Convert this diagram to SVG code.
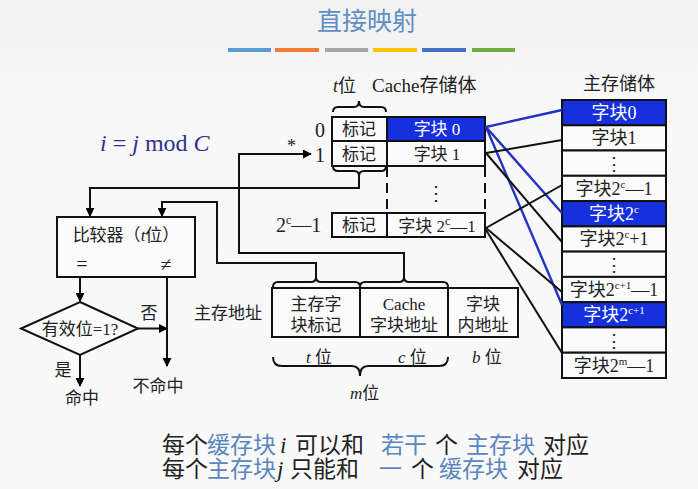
<svg xmlns="http://www.w3.org/2000/svg" width="698" height="489" viewBox="0 0 698 489">
<defs>
<marker id="arr" viewBox="0 0 10 10" refX="9" refY="5" markerWidth="9" markerHeight="9" markerUnits="userSpaceOnUse" orient="auto">
<path d="M0,0 L10,5 L0,10 z" fill="#000"/>
</marker>
<linearGradient id="bg" x1="0" y1="0" x2="0" y2="1">
<stop offset="0" stop-color="#f1f1f1"/>
<stop offset="0.2" stop-color="#f8f8f8"/>
<stop offset="1" stop-color="#f9f9f9"/>
</linearGradient>
</defs>
<style>
.t{font-family:"Liberation Serif","Noto Sans CJK SC",serif;fill:#222;}
.c{text-anchor:middle;}
.box{fill:#fbfbfb;stroke:#111;stroke-width:2;}
.hl{fill:#1530dc;stroke:#111;stroke-width:2;}
.ln{fill:none;stroke:#111;stroke-width:2;}
.bl{fill:none;stroke:#2232c2;stroke-width:2.4;}
.blk{fill:none;stroke:#111;stroke-width:2;}
.it{font-style:italic;}
.hb{fill:#5b86c0;}
.wt{fill:#fff;}
</style>
<rect x="0" y="0" width="698" height="489" fill="url(#bg)"/>

<g id="title">
<text class="t c" x="367" y="30" font-size="25" style="fill:#5f8fc5">直接映射</text>
<rect x="228" y="48" width="43" height="4" fill="#5b9bd5"/>
<rect x="275" y="48" width="44" height="4" fill="#ed7d31"/>
<rect x="325" y="48" width="43" height="4" fill="#a5a5a5"/>
<rect x="373" y="48" width="44" height="4" fill="#ffc000"/>
<rect x="422" y="48" width="44" height="4" fill="#4472c4"/>
<rect x="472" y="48" width="43" height="4" fill="#70ad47"/>
</g>

<g id="formula">
<text class="t" x="100" y="151" font-size="24" style="fill:#2e3192"><tspan class="it">i</tspan> = <tspan class="it">j</tspan> mod <tspan class="it">C</tspan></text>
</g>

<g id="cache">
<text class="t" x="333" y="92" font-size="18"><tspan class="it">t</tspan>位</text>
<text class="t" x="372" y="92" font-size="19">Cache存储体</text>
<path class="ln" d="M333,112 Q333,107 338,107 L354,107 Q359,107 359,101 Q359,107 364,107 L381,107 Q386,107 386,112"/>
<text class="t c" x="320" y="137" font-size="20">0</text>
<text class="t c" x="320" y="162" font-size="20">1</text>
<text class="t" x="276" y="232" font-size="20">2<tspan font-size="12" dy="-8">c</tspan><tspan dy="8">—1</tspan></text>
<rect class="box" x="332" y="117" width="55" height="24"/>
<rect class="hl" x="387" y="117" width="98" height="24"/>
<rect class="box" x="332" y="141" width="55" height="25"/>
<rect class="box" x="387" y="141" width="98" height="25"/>
<rect class="box" x="332" y="213" width="55" height="24"/>
<rect class="box" x="387" y="213" width="98" height="24"/>
<line x1="387" y1="167" x2="387" y2="213" stroke="#111" stroke-width="2" stroke-dasharray="10 6"/>
<line x1="485" y1="167" x2="485" y2="213" stroke="#111" stroke-width="2" stroke-dasharray="10 6"/>
<text class="t c" x="436" y="200" font-size="20">⋮</text>
<text class="t c" x="359" y="135" font-size="17">标记</text>
<text class="t c" x="359" y="160" font-size="17">标记</text>
<text class="t c" x="359" y="231" font-size="17">标记</text>
<text class="t c wt" x="437" y="135" font-size="17">字块 0</text>
<text class="t c" x="437" y="160" font-size="17">字块 1</text>
<text class="t c" x="437" y="232" font-size="17">字块 2<tspan font-size="12" dy="-7">c</tspan><tspan dy="7">—1</tspan></text>
<path class="ln" d="M333,166 Q333,171 338,171 L354,171 Q359,171 359,176 Q359,171 364,171 L381,171 Q386,171 386,166"/>
<text class="t" x="287" y="152" font-size="18">*</text>
</g>

<g id="memory">
<text class="t c" x="619" y="90" font-size="18">主存储体</text>
<rect class="hl" x="562" y="100" width="104" height="25.3"/>
<rect class="box" x="562" y="125.3" width="104" height="25.2"/>
<rect class="box" x="562" y="150.5" width="104" height="25.3"/>
<rect class="box" x="562" y="175.8" width="104" height="25.3"/>
<rect class="hl" x="562" y="201.1" width="104" height="25.3"/>
<rect class="box" x="562" y="226.4" width="104" height="25.2"/>
<rect class="box" x="562" y="251.6" width="104" height="25.3"/>
<rect class="box" x="562" y="276.9" width="104" height="25.3"/>
<rect class="hl" x="562" y="302.2" width="104" height="25.2"/>
<rect class="box" x="562" y="327.4" width="104" height="25.3"/>
<rect class="box" x="562" y="352.7" width="104" height="25.3"/>
<text class="t c wt" x="614" y="119" font-size="18">字块0</text>
<text class="t c" x="614" y="144" font-size="18">字块1</text>
<text class="t c" x="614" y="170" font-size="18">⋮</text>
<text class="t c" x="614" y="195" font-size="18">字块2<tspan font-size="11" dy="-7">c</tspan><tspan dy="7">—1</tspan></text>
<text class="t c wt" x="614" y="220" font-size="18">字块2<tspan font-size="11" dy="-7">c</tspan></text>
<text class="t c" x="614" y="245" font-size="18">字块2<tspan font-size="11" dy="-7">c</tspan><tspan dy="7">+1</tspan></text>
<text class="t c" x="614" y="271" font-size="18">⋮</text>
<text class="t c" x="614" y="296" font-size="18">字块2<tspan font-size="11" dy="-7">c+1</tspan><tspan dy="7">—1</tspan></text>
<text class="t c wt" x="614" y="321" font-size="18">字块2<tspan font-size="11" dy="-7">c+1</tspan></text>
<text class="t c" x="614" y="347" font-size="18">⋮</text>
<text class="t c" x="614" y="372" font-size="18">字块2<tspan font-size="11" dy="-7">m</tspan><tspan dy="7">—1</tspan></text>
</g>

<g id="comparator">
<rect class="box" x="57" y="217" width="138" height="60"/>
<text class="t c" x="126" y="241" font-size="17">比较器（<tspan class="it">t</tspan>位）</text>
<text class="t c" x="82" y="271" font-size="20">=</text>
<text class="t c" x="166" y="271" font-size="20">≠</text>
</g>

<g id="valid">
<path class="box" d="M80,302 L138,328.5 L80,355 L21,328.5 Z"/>
<text class="t c" x="80" y="335" font-size="17">有效位=1?</text>
</g>

<g id="labels">
<text class="t c" x="149" y="319" font-size="17">否</text>
<text class="t c" x="63" y="376" font-size="17">是</text>
<text class="t c" x="82" y="404" font-size="17">命中</text>
<text class="t c" x="158" y="392" font-size="17">不命中</text>
</g>

<g id="address">
<text class="t" x="194" y="319" font-size="17">主存地址</text>
<rect class="box" x="272" y="288" width="88" height="49"/>
<rect class="box" x="360" y="288" width="88" height="49"/>
<rect class="box" x="448" y="288" width="70" height="49"/>
<text class="t c" x="316" y="310" font-size="17">主存字</text>
<text class="t c" x="316" y="331" font-size="17">块标记</text>
<text class="t c" x="404" y="310" font-size="17">Cache</text>
<text class="t c" x="404" y="331" font-size="17">字块地址</text>
<text class="t c" x="483" y="310" font-size="17">字块</text>
<text class="t c" x="483" y="331" font-size="17">内地址</text>
<path class="ln" d="M273,287 Q273,282 278,282 L311,282 Q316,282 316,277 Q316,282 321,282 L355,282 Q360,282 360,287"/>
<path class="ln" d="M360,287 Q360,282 365,282 L399,282 Q404,282 404,277 Q404,282 409,282 L443,282 Q448,282 448,287"/>
<text class="t" x="306" y="363" font-size="17"><tspan class="it">t</tspan> 位</text>
<text class="t" x="398" y="363" font-size="17"><tspan class="it">c</tspan> 位</text>
<text class="t" x="472" y="363" font-size="17"><tspan class="it">b</tspan> 位</text>
<path class="ln" d="M273,357 Q273,366 282,366 L352,366 Q360,366 360,376 Q360,366 368,366 L439,366 Q448,366 448,357"/>
<text class="t" x="350" y="399" font-size="17"><tspan class="it">m</tspan>位</text>
</g>

<g id="connectors">
<path class="ln" d="M359,176 V188 H90 V216" marker-end="url(#arr)"/>
<path class="ln" d="M316,277 V263 H217 V202 H162 V216" marker-end="url(#arr)"/>
<path class="ln" d="M404,277 V253 H239 V154 H311" marker-end="url(#arr)"/>
<path class="ln" d="M80,277 V301" marker-end="url(#arr)"/>
<path class="ln" d="M167,277 V366" marker-end="url(#arr)"/>
<path class="ln" d="M138,328.5 H167" marker-end="url(#arr)"/>
<path class="ln" d="M80,355 V386" marker-end="url(#arr)"/>
<line class="bl" x1="486" y1="127" x2="562" y2="110"/>
<line class="bl" x1="486" y1="127" x2="562" y2="213"/>
<line class="bl" x1="486" y1="127" x2="562" y2="305"/>
<line class="blk" x1="486" y1="153" x2="562" y2="140"/>
<line class="blk" x1="486" y1="153" x2="562" y2="242"/>
<line class="blk" x1="486" y1="228" x2="562" y2="185"/>
<line class="blk" x1="486" y1="228" x2="562" y2="292"/>
<line class="blk" x1="486" y1="230" x2="562" y2="353"/>
</g>

<g id="notes">
<text class="t" font-size="23" y="453"><tspan x="162">每个</tspan><tspan x="207" class="hb">缓存块</tspan><tspan x="280" class="it">i</tspan><tspan x="295">可以和</tspan><tspan x="381" class="hb">若干</tspan><tspan x="435">个</tspan><tspan x="466" class="hb">主存块</tspan><tspan x="543">对应</tspan></text>
<text class="t" font-size="23" y="477"><tspan x="162">每个</tspan><tspan x="207" class="hb">主存块</tspan><tspan x="277" class="it">j</tspan><tspan x="290">只能和</tspan><tspan x="379" class="hb">一</tspan><tspan x="411">个</tspan><tspan x="439" class="hb">缓存块</tspan><tspan x="517">对应</tspan></text>
</g>
</svg>
